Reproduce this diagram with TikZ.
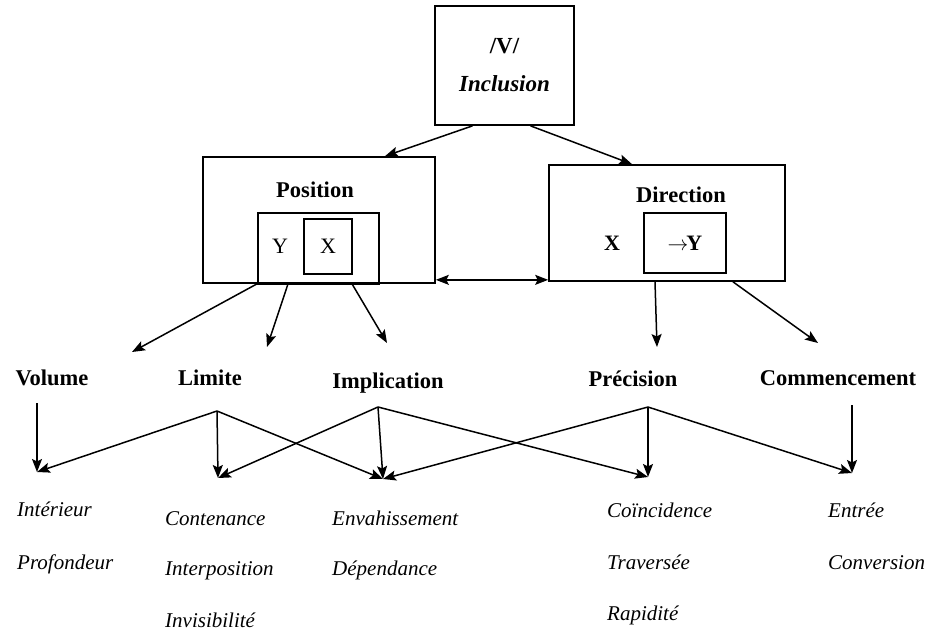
\documentclass[tikz,border=0pt]{standalone}
\usepackage{fontspec}
\setmainfont{Liberation Serif}
\usetikzlibrary{arrows.meta, positioning}

\begin{document}
\begin{tikzpicture}[
  x=1pt, y=-1pt,
  >={Stealth[length=13pt, width=10pt, inset=2.5pt]},
  frame/.style={rectangle, draw=black, line width=1.7pt, inner sep=0pt},
  lbl/.style={font=\fontsize{22.5}{27}\selectfont\bfseries, inner sep=0pt},
  word/.style={font=\fontsize{21}{25}\selectfont\itshape, anchor=base west, inner sep=0pt},
  link/.style={->, line width=1.5pt}
]
\useasboundingbox (0,0) rectangle (936,632);

% Top box
\node[frame, minimum width=139pt, minimum height=119pt, align=center,
  font=\fontsize{23}{38}\selectfont\bfseries] (incl) at (504.5,65.5) {/V/\\\itshape Inclusion};

% Position
\node[frame, minimum width=232pt, minimum height=126pt] (pos) at (319,220) {};
\node[lbl] (poslbl) at (315,190) {Position};
\node[frame, minimum width=121pt, minimum height=70pt] (posin) at (318.5,248) {};
\node[frame, minimum width=48pt, minimum height=55pt, font=\fontsize{22}{26}\selectfont] (posx) at (328,246.5) {X};
\node[left=15pt of posx, inner sep=0pt, font=\fontsize{22}{26}\selectfont] (posy) {Y};
\draw[line width=3.2pt] (posin.south west) -- (posin.south east);

% Direction
\node[frame, minimum width=236pt, minimum height=116pt] (dir) at (667,223) {};
\node[lbl] (dirlbl) at (681,195) {Direction};
\node[frame, minimum width=82pt, minimum height=60pt, font=\fontsize{22}{26}\selectfont\bfseries] (dirin) at (685,243) {$\rightarrow$\kern-2ptY};
\node[left=23pt of dirin, inner sep=0pt, font=\fontsize{22}{26}\selectfont\bfseries] (dirx) {X};

\draw[link] ([xshift=-32pt]incl.south) -- ([xshift=66pt]pos.north);
\draw[link] ([xshift=26pt]incl.south) -- ([xshift=-35pt]dir.north);
\draw[<->, line width=1.5pt] ([yshift=4pt]pos.south east) -- ([yshift=4pt]pos.south east -| dir.west);

% Second level
\node[lbl, anchor=base] (vol) at (52,385) {Volume};
\node[lbl, anchor=base] (lim) at (210,385) {Limite};
\node[lbl, anchor=base] (imp) at (388,388) {Implication};
\node[lbl, anchor=base] (pre) at (633,386) {Précision};
\node[lbl, anchor=base] (com) at (838,385) {Commencement};

\draw[link] ([xshift=-62pt]pos.south) -- ([shift={(80,-33)}]vol.base);
\draw[link] ([xshift=-31pt]pos.south) -- ([shift={(57,-38)}]lim.base);
\draw[link] ([xshift=33pt]pos.south) -- ([shift={(-1,-45)}]imp.base);
\draw[link] ([xshift=-12pt]dir.south) -- ([shift={(24,-39)}]pre.base);
\draw[link] ([xshift=66pt]dir.south) -- ([shift={(-20,-42)}]com.base);

% Words
\foreach \nm/\px/\py/\txt in {int/17/516/Intérieur, pro/17/569/Profondeur,
    con/165/525/Contenance, itp/165/575/Interposition, inv/165/627/Invisibilité,
    env/332/525/Envahissement, dep/332/575/Dépendance,
    coi/607/517/Coïncidence, tra/607/569/Traversée, rap/607/620/Rapidité,
    ent/828/517/Entrée, cvs/828/569/Conversion}
  \node[word] (\nm) at (\px,\py) {\txt};

% Fan-out
\coordinate (tInt) at (37,472);
\coordinate (tCon) at (218,478);
\coordinate (tEnv) at (383,479);
\coordinate (tCoi) at (648,477);
\coordinate (tEnt) at (852,473);
\coordinate (limA) at ([shift={(7,26)}]lim.base);
\coordinate (impA) at ([shift={(-10,19)}]imp.base);
\coordinate (preA) at ([shift={(15,21)}]pre.base);

\draw[link] ([shift={(-15,18)}]vol.base) -- (tInt);
\draw[link] ([shift={(14,20)}]com.base) -- (tEnt);
\foreach \a/\b in {limA/tInt, limA/tCon, limA/tEnv, impA/tCon, impA/tEnv, impA/tCoi,
    preA/tEnv, preA/tCoi, preA/tEnt}
  \draw[link] (\a) -- (\b);

\end{tikzpicture}
\end{document}
